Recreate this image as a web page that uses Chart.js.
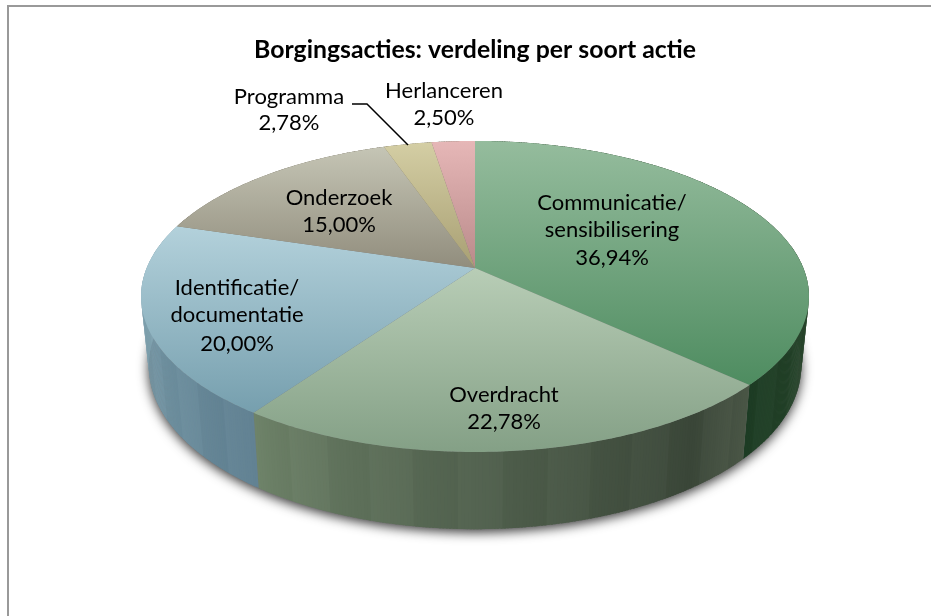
<!DOCTYPE html>
<html><head><meta charset="utf-8">
<style>html,body{margin:0;padding:0;background:#fff}#w{width:931px;height:616px}</style>
<script src="https://cdn.jsdelivr.net/npm/chart.js@4"></script>
</head><body><div id="w"><canvas id="c" width="931" height="616"></canvas></div>
<script>
const titleText = 'Borgingsacties: verdeling per soort actie';
const categories = ['Communicatie/\nsensibilisering', 'Overdracht', 'Identificatie/\ndocumentatie', 'Onderzoek', 'Programma', 'Herlanceren'];
const shares = [36.94, 22.78, 20.00, 15.00, 2.78, 2.50];

// styling, separate from the data
const topLight = ['#95bc9d', '#b8cdb6', '#b3d1db', '#c5c5b5', '#d4cea4', '#e6b7b7'];
const topDark  = ['#4e8c60', '#84a086', '#769fae', '#918d7d', '#a89f73', '#b98a8a'];
const labelCentres = [[612, 203], [504, 395], [237, 288], [339, 198], [289, 97], [444, 91]];
const labelLineSteps = [[27, 28], [27], [27, 29], [27], [26], [27]];
const leaderLine = [[352, 104], [367, 104], [408, 145]];
const P = {cx: 475, cy: 268, A: 328.3, B: 150.3, k: 0.183, depth: 68, shrinkX: 0.977, stretchY: 1.05};

function top3d(t) {
  const d = 1 + P.k * Math.cos(t);
  return [P.cx + P.A * Math.sin(t) / d, P.cy - P.B * Math.cos(t) / d];
}
function bottom3d(t) {
  const p = top3d(t);
  return [P.cx + (p[0] - P.cx) * P.shrinkX, P.cy + (p[1] - P.cy) * P.stretchY + P.depth];
}
function wallColour(i, t) {
  // screen angle measured clockwise from the top of the pie
  const deg = ((t * 180 / Math.PI) % 360 + 360) % 360;
  const band = Math.floor(deg / 6.5) % 2 ? 2 : -2;
  const mix = (a, b, f) => a.map((v, j) => Math.round(v + (b[j] - v) * f + band));
  let c;
  if (i === 0) c = mix([44, 72, 46], [31, 62, 38], Math.min(1, Math.max(0, (deg - 90) / 43)));
  else if (i === 1) {
    const f = (215 - deg) / 82;
    c = f < 0.85 ? mix([113, 134, 108], [60, 72, 58], Math.pow(f / 0.85, 0.8)) : mix([60, 72, 58], [76, 88, 72], (f - 0.85) / 0.15);
  }
  else if (i === 2) c = mix([96, 128, 145], [128, 162, 175], Math.min(1, (deg - 215) / 50));
  else c = [120, 115, 100];
  return 'rgb(' + c.join(',') + ')';
}

const perspectivePie = {
  id: 'perspectivePie',
  beforeDraw(chart) {
    const ctx = chart.ctx;
    ctx.save();
    ctx.fillStyle = '#fff';
    ctx.fillRect(0, 0, chart.width, chart.height);
    ctx.strokeStyle = '#999';
    ctx.lineWidth = 2;
    ctx.beginPath();
    ctx.moveTo(8, chart.height);
    ctx.lineTo(8, 6);
    ctx.lineTo(chart.width, 6);
    ctx.stroke();
    ctx.restore();
  },
  beforeDatasetDraw(chart) {
    const ctx = chart.ctx;
    const arcs = chart.getDatasetMeta(0).data;
    const off = Math.PI / 2;
    ctx.save();
    // soft shadow under the disc
    ctx.save();
    ctx.shadowColor = 'rgba(0,0,0,0.8)';
    ctx.shadowBlur = 12;
    ctx.shadowOffsetY = 3;
    ctx.fillStyle = '#777';
    ctx.beginPath();
    for (let t = 0; t <= 360; t += 2) {
      const p = bottom3d(t * Math.PI / 180);
      t ? ctx.lineTo(p[0], p[1]) : ctx.moveTo(p[0], p[1]);
    }
    ctx.closePath();
    ctx.fill();
    ctx.restore();
    // wall strips
    arcs.forEach((arc, i) => {
      const s = arc.startAngle + off, e = arc.endAngle + off;
      const step = Math.PI / 360;
      for (let t = s; t < e; t += step) {
        const u = Math.min(t + step * 1.6, e);
        const a = top3d(t), b = top3d(u), c = bottom3d(u), d = bottom3d(t);
        ctx.fillStyle = wallColour(i, t);
        ctx.beginPath();
        ctx.moveTo(a[0], a[1]); ctx.lineTo(b[0], b[1]); ctx.lineTo(c[0], c[1]); ctx.lineTo(d[0], d[1]);
        ctx.closePath();
        ctx.fill();
      }
    });
    // top faces
    arcs.forEach((arc, i) => {
      const s = arc.startAngle + off, e = arc.endAngle + off;
      const path = [[P.cx, P.cy]];
      const n = Math.max(8, Math.ceil((e - s) * 90));
      for (let j = 0; j <= n; j++) path.push(top3d(s + (e - s) * j / n));
      const ys = path.map(p => p[1]);
      const g = ctx.createLinearGradient(0, Math.min(...ys), 0, Math.max(...ys));
      g.addColorStop(0, topLight[i]);
      g.addColorStop(1, topDark[i]);
      ctx.fillStyle = g;
      ctx.beginPath();
      path.forEach((p, j) => j ? ctx.lineTo(p[0], p[1]) : ctx.moveTo(p[0], p[1]));
      ctx.closePath();
      ctx.fill();
    });
    ctx.restore();
    return false;
  },
  afterDatasetsDraw(chart) {
    const ctx = chart.ctx;
    ctx.save();
    ctx.strokeStyle = '#000';
    ctx.lineWidth = 1.5;
    ctx.beginPath();
    leaderLine.forEach((p, j) => j ? ctx.lineTo(p[0], p[1]) : ctx.moveTo(p[0], p[1]));
    ctx.stroke();
    ctx.fillStyle = '#000';
    ctx.font = '400 22px Lato, sans-serif';
    ctx.textAlign = 'center';
    ctx.textBaseline = 'middle';
    chart.data.labels.forEach((name, i) => {
      const lines = name.split('\n').concat(shares[i].toFixed(2).replace('.', ',') + '%');
      let y = labelCentres[i][1];
      lines.forEach((ln, j) => {
        ctx.fillText(ln, labelCentres[i][0], y);
        y += labelLineSteps[i][j] || 0;
      });
    });
    ctx.restore();
  }
};

new Chart(document.getElementById('c'), {
  type: 'pie',
  data: {labels: categories, datasets: [{data: shares, backgroundColor: topLight, borderWidth: 0}]},
  options: {
    responsive: false,
    animation: false,
    layout: {padding: {left: 19}},
    plugins: {
      legend: {display: false},
      tooltip: {enabled: false},
      title: {display: true, text: titleText, color: '#000', padding: {top: 35, bottom: 10},
              font: {family: 'Lato, sans-serif', size: 24.8, weight: 'bold'}}
    }
  },
  plugins: [perspectivePie]
});
</script></body></html>
